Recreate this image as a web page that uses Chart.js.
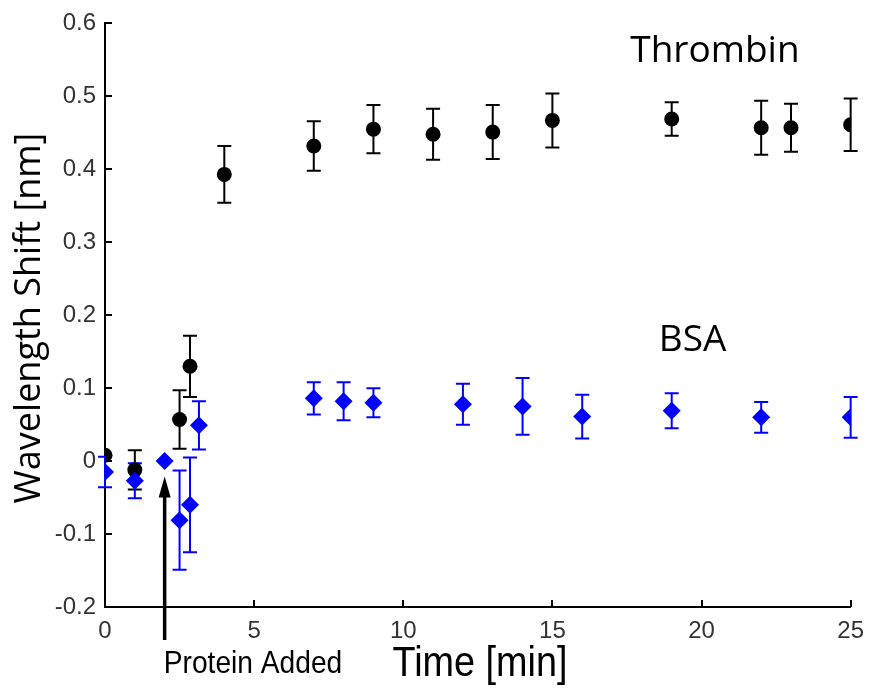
<!DOCTYPE html>
<html>
<head>
<meta charset="utf-8">
<script src="https://cdn.jsdelivr.net/npm/chart.js@4/dist/chart.umd.min.js"></script>
<style>
  body { margin: 0; background: #fff; }
  #wrap { width: 874px; height: 694px; }
</style>
</head>
<body>
<div id="wrap"><canvas id="myChart" width="874" height="694"></canvas></div>
<script>
// thrombin series (black circles)
const thrombinTime = [0, 1, 2.5, 2.85, 4, 7, 9, 11, 13, 15, 19, 22, 23, 25];
const thrombinShift = [0.008, -0.012, 0.057, 0.13, 0.393, 0.432, 0.455, 0.448, 0.451, 0.467, 0.469, 0.457, 0.457, 0.461];
const thrombinErr = [0, 0.027, 0.04, 0.042, 0.039, 0.034, 0.033, 0.035, 0.037, 0.037, 0.023, 0.037, 0.033, 0.036];

// BSA series (blue diamonds)
const bsaTime = [0, 1, 2, 2.5, 2.85, 3.15, 7, 8, 9, 12, 14, 16, 19, 22, 25];
const bsaShift = [-0.015, -0.027, 0, -0.081, -0.06, 0.049, 0.086, 0.082, 0.08, 0.078, 0.075, 0.061, 0.069, 0.06, 0.06];
const bsaErr = [0.021, 0.024, 0, 0.068, 0.065, 0.033, 0.022, 0.026, 0.02, 0.028, 0.039, 0.03, 0.024, 0.021, 0.028];

const xTicks = [0, 5, 10, 15, 20, 25];
const yTicks = [-0.2, -0.1, 0, 0.1, 0.2, 0.3, 0.4, 0.5, 0.6];

function toPoints(xs, ys, es) {
    return xs.map(function(x, i){ return {x: x, y: ys[i], err: es[i]}; });
}

const errorBars = {
    id: 'errorBars',
    beforeDatasetsDraw(chart) {
        const ctx = chart.ctx;
        const xs = chart.scales.x, ys = chart.scales.y;
        // draw thrombin bars first, BSA on top
        for (let d = chart.data.datasets.length - 1; d >= 0; d--) {
            const ds = chart.data.datasets[d];
            ctx.save();
            ctx.strokeStyle = ds.borderColor;
            ctx.lineWidth = 2;
            ds.data.forEach(function(p){
                if (!p.err) return;
                const px = xs.getPixelForValue(p.x);
                const top = ys.getPixelForValue(p.y + p.err);
                const bot = ys.getPixelForValue(p.y - p.err);
                ctx.beginPath();
                ctx.moveTo(px, top); ctx.lineTo(px, bot);
                ctx.moveTo(px - 7, top); ctx.lineTo(px + 7, top);
                ctx.moveTo(px - 7, bot); ctx.lineTo(px + 7, bot);
                ctx.stroke();
            });
            ctx.restore();
        }
    }
};

function narrowText(ctx, txt, x, y, sx) {
    ctx.save();
    ctx.translate(x, y);
    ctx.scale(sx, 1);
    ctx.fillText(txt, 0, 0);
    ctx.restore();
}

const extras = {
    id: 'extras',
    afterDraw(chart) {
        const ctx = chart.ctx;
        const xs = chart.scales.x, ys = chart.scales.y;
        const area = chart.chartArea;
        ctx.save();
        // inward ticks
        ctx.strokeStyle = '#000';
        ctx.lineWidth = 2;
        ctx.beginPath();
        yTicks.forEach(function(v){
            const py = Math.round(ys.getPixelForValue(v));
            ctx.moveTo(area.left, py); ctx.lineTo(area.left + 7, py);
        });
        xTicks.forEach(function(v){
            const px = Math.round(xs.getPixelForValue(v));
            ctx.moveTo(px, area.bottom); ctx.lineTo(px, area.bottom - 7);
        });
        ctx.stroke();

        // arrow for protein added
        const ax = xs.getPixelForValue(2);
        const tip = ys.getPixelForValue(-0.021);
        ctx.lineWidth = 3.5;
        ctx.beginPath();
        ctx.moveTo(ax, area.bottom + 33);
        ctx.lineTo(ax, tip + 15);
        ctx.stroke();
        ctx.fillStyle = '#000';
        ctx.beginPath();
        ctx.moveTo(ax, tip);
        ctx.lineTo(ax - 6, tip + 21);
        ctx.lineTo(ax + 6, tip + 21);
        ctx.closePath();
        ctx.fill();

        // texts
        ctx.fillStyle = '#000';
        ctx.textAlign = 'center';
        ctx.textBaseline = 'middle';
        ctx.font = '37px "Open Sans"';
        ctx.fillText('Thrombin', xs.getPixelForValue(20.45), ys.getPixelForValue(0.561));
        ctx.fillText('BSA', xs.getPixelForValue(19.7), ys.getPixelForValue(0.165));

        ctx.font = '32px "Liberation Sans"';
        narrowText(ctx, 'Protein Added', 253, 664, 0.88);
        ctx.font = '42px "Liberation Sans"';
        narrowText(ctx, 'Time [min]', 480, 664, 0.9);

        ctx.translate(30, 318);
        ctx.rotate(-Math.PI / 2);
        ctx.font = '36px "Open Sans"';
        ctx.fillText('Wavelength Shift [nm]', 0, 0);
        ctx.restore();
    }
};

const config = {
    type: 'scatter',
    data: {
        datasets: [{
            label: 'BSA',
            data: toPoints(bsaTime, bsaShift, bsaErr),
            pointStyle: 'rectRot',
            pointRadius: 9,
            backgroundColor: '#0000ff',
            borderColor: '#0000ff',
            borderWidth: 0
        }, {
            label: 'Thrombin',
            data: toPoints(thrombinTime, thrombinShift, thrombinErr),
            pointStyle: 'circle',
            pointRadius: 7.5,
            backgroundColor: '#000000',
            borderColor: '#000000',
            borderWidth: 0
        }]
    },
    options: {
        responsive: false,
        animation: false,
        layout: { padding: { top: 21, right: 19, left: 0, bottom: 0 } },
        plugins: { legend: { display: false }, tooltip: { enabled: false } },
        scales: {
            x: {
                type: 'linear',
                min: 0, max: 25,
                afterBuildTicks: function(scale){ scale.ticks = xTicks.map(function(v){ return {value: v}; }); },
                afterFit: function(scale){ scale.height = 87; },
                grid: { display: false, drawTicks: false },
                border: { display: true, color: '#000', width: 2 },
                ticks: {
                    padding: 10,
                    color: '#333',
                    font: { family: 'Liberation Sans', size: 24 },
                    callback: function(v){ return String(v); }
                }
            },
            y: {
                type: 'linear',
                min: -0.2, max: 0.6,
                afterBuildTicks: function(scale){ scale.ticks = yTicks.map(function(v){ return {value: v}; }); },
                afterFit: function(scale){ scale.width = 105; },
                grid: { display: false, drawTicks: false },
                border: { display: true, color: '#000', width: 2 },
                ticks: {
                    padding: 9,
                    color: '#333',
                    font: { family: 'Liberation Sans', size: 24 },
                    callback: function(v){ return Math.abs(v) < 1e-9 ? '0' : v.toFixed(1); }
                }
            }
        }
    },
    plugins: [errorBars, extras]
};

const chart = new Chart(document.getElementById('myChart'), config);
</script>
</body>
</html>
